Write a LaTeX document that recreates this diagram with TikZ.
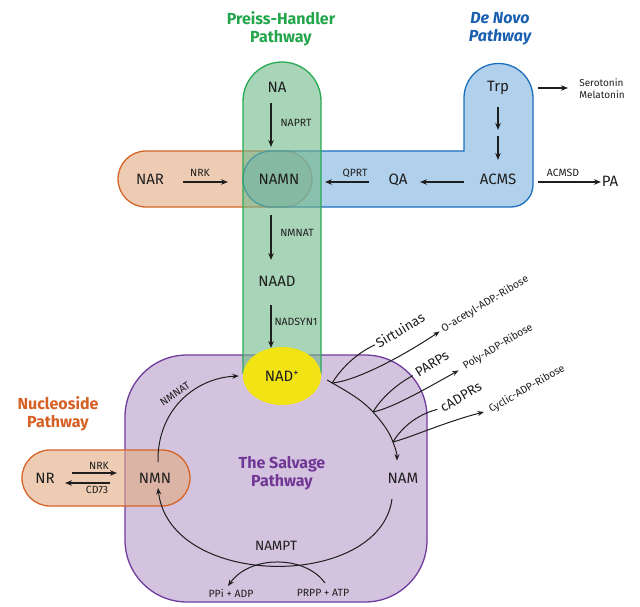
\documentclass[tikz,border=0pt]{standalone}
\usepackage{fontspec}
\setmainfont{Fira Sans}
\usetikzlibrary{arrows.meta,shapes.geometric}
\definecolor{ink}{RGB}{30,30,30}
\definecolor{gstroke}{RGB}{40,170,85}
\definecolor{gfill}{RGB}{110,183,135}
\definecolor{bstroke}{RGB}{30,110,190}
\definecolor{bfill}{RGB}{123,177,222}
\definecolor{ostroke}{RGB}{212,100,40}
\definecolor{ofill}{RGB}{226,170,130}
\definecolor{pstroke}{RGB}{112,60,158}
\definecolor{pfill}{RGB}{212,195,222}
\definecolor{yel}{RGB}{242,228,20}
\definecolor{gtitle}{RGB}{35,165,75}
\definecolor{btitle}{RGB}{25,95,175}
\definecolor{otitle}{RGB}{214,96,36}
\definecolor{ptitle}{RGB}{112,55,150}
\begin{document}
\begin{tikzpicture}[x=1pt,y=-1pt,
  every node/.style={inner sep=0pt,text=ink},
  big/.style={font=\fontsize{15}{17}\selectfont},
  mid/.style={font=\fontsize{13.5}{15}\selectfont},
  small/.style={font=\fontsize{10.5}{12}\selectfont},
  ttl/.style={font=\fontsize{16}{18}\selectfont\bfseries,align=center},
  arr/.style={draw=ink,line width=1.1pt,-{Stealth[length=7pt,width=5.5pt]}},
  carr/.style={draw=ink,line width=1pt,-{Stealth[length=6.5pt,width=5pt]}},
  cline/.style={draw=ink,line width=1pt},
  region/.style={line width=1.3pt,fill opacity=0.6},
]
\useasboundingbox (0,0) rectangle (640,607);
% ---------- regions ----------
\draw[draw=pstroke,fill=pfill,line width=1.3pt,rounded corners=62pt] (125,355) rectangle (427,602);
\draw[region,draw=ostroke,fill=ofill,rounded corners=28pt] (22,450) rectangle (190,506);
\draw[region,draw=ostroke,fill=ofill,rounded corners=28pt] (118,151) rectangle (312,207);
\draw[region,draw=bstroke,fill=bfill] (271,151) -- (464,151) -- (464,98)
   arc[start angle=180,end angle=0,radius=34.5pt] -- (533,185)
   arc[start angle=0,end angle=-90,radius=22pt] -- (271,207)
   arc[start angle=270,end angle=90,radius=28pt] -- cycle;
\fill[gfill,fill opacity=0.6] (243,374) -- (243,101) arc[start angle=180,end angle=0,radius=39pt] -- (321,374) -- cycle;
\draw[gstroke,line width=1.3pt] (243,374) -- (243,101) arc[start angle=180,end angle=0,radius=39pt] -- (321,374);
% ---------- titles ----------
\node[ttl,text=gtitle] (tPH) at (281,29) {Preiss-Handler\\Pathway};
\node[ttl,text=btitle,font=\fontsize{16}{18}\selectfont\bfseries\itshape] (tDN) at (500,29) {De Novo\\Pathway};
\node[ttl,text=otitle] (tNP) at (58,414) {Nucleoside\\Pathway};
\node[ttl,text=ptitle] (tSP) at (282,473) {The Salvage\\Pathway};
% ---------- metabolites ----------
\node[ellipse,fill=yel,minimum width=78pt,minimum height=58pt,big] (NAD) at (282,376) {NAD\textsuperscript{+}};
\node[big] (NA) at (277,87) {NA};
\node[big] (NAMN) at (279,179) {NAMN};
\node[big] (NAAD) at (277,281) {NAAD};
\node[big] (NAR) at (150,179) {NAR};
\node[big] (QA) at (398,180) {QA};
\node[big] (ACMS) at (498,179) {ACMS};
\node[big] (Trp) at (498,88) {Trp};
\node[big] (PA) at (610,181) {PA};
\node[small,font=\fontsize{10}{12}\selectfont,align=left] (Sero) at (602,89) {Serotonin\\Melatonin};
\node[big] (NR) at (45,478) {NR};
\node[big] (NMN) at (155,478) {NMN};
\node[big] (NAM) at (403,478) {NAM};
\node[mid] (NAMPT) at (276,546) {NAMPT};
\node[small] (PPi) at (231,593) {PPi + ADP};
\node[small] (PRPP) at (323,593) {PRPP + ATP};
% ---------- enzyme labels ----------
\node[small] (naprt) at (296,123) {NAPRT};
\node[small] (nmnat1) at (297,233) {NMNAT};
\node[small] (nadsyn) at (296,322) {NADSYN1};
\node[small] (qprt) at (355,173) {QPRT};
\node[small] (nrk1) at (200,173) {NRK};
\node[small] (acmsd) at (563,173) {ACMSD};
\node[small] (nrk2) at (99,466) {NRK};
\node[small] (cd73) at (97,490) {CD73};
\node[small,rotate=34] (nmnat2) at (175,394) {NMNAT};
% ---------- consumers ----------
\node[mid,rotate=31] (Sirt) at (400,330) {Sirtuinas};
\node[small,rotate=31] (OAc) at (485,304) {O-acetyl-ADP.-Ribose};
\node[mid,rotate=32] (PARP) at (432,364) {PARPs};
\node[small,rotate=31] (Poly) at (498,347) {Poly-ADP-Ribose};
\node[mid,rotate=30] (cADPR) at (461,397) {cADPRs};
\node[small,rotate=30] (Cyc) at (527,389) {Cyclic-ADP-Ribose};
% ---------- straight arrows ----------
\draw[arr,shorten <=16pt,shorten >=32pt] ([xshift=-6pt]NA.center) -- ([xshift=-8pt]NAMN.center);
\draw[arr,shorten <=36pt,shorten >=21pt] ([xshift=-8pt]NAMN.center) -- ([xshift=-6pt]NAAD.center);
\draw[arr,shorten <=24pt,shorten >=28pt] ([xshift=-6pt]NAAD.center) -- ([xshift=-11pt]NAD.center);
\draw[arr,shorten <=19pt,shorten >=49pt] (Trp.center) -- (ACMS.center);
\draw[arr,shorten <=48pt,shorten >=19pt] (Trp.center) -- (ACMS.center);
\draw[arr,shorten <=40pt,shorten >=34pt] (Trp.center) -- (Trp.center -| Sero.center);
\draw[arr,shorten <=40pt,shorten >=9pt] ([yshift=-3pt]ACMS.center) -- ([yshift=-3pt]ACMS.center -| PA.center);
\draw[arr,shorten <=34pt,shorten >=22pt] ([yshift=-3pt]ACMS.center) -- ([yshift=-3pt]ACMS.center -| QA.center);
\draw[arr,shorten <=29pt,shorten >=46pt] ([yshift=-3pt]ACMS.center -| QA.center) -- ([yshift=-3pt]NAMN.center);
\draw[arr,shorten <=33pt,shorten >=51pt] ([yshift=-3pt]NAR.center) -- ([yshift=-3pt]NAMN.center);
\draw[arr,shorten <=27pt,shorten >=38pt] ([yshift=5pt]NR.center) -- ([yshift=5pt]NMN.center);
\draw[arr,shorten <=45pt,shorten >=20pt] ([yshift=-5pt]NMN.center) -- ([yshift=-5pt]NR.center);
% ---------- salvage cycle ----------
\coordinate (j1) at ([xshift=11pt,yshift=-7pt]NAD.east);
\coordinate (j2) at (373,412);
\coordinate (j3) at (393,442);
\draw[cline] ([xshift=6pt,yshift=-4pt]NAD.east) -- (j1);
\draw[carr] (j1) .. controls (352,394) and (364,402) .. (j2)
   .. controls (382,422) and (389,431) .. (j3)
   .. controls (396,450) and (397,454) .. ([xshift=-6pt,yshift=12pt]NAM.north);
\draw[carr] ([xshift=3pt,yshift=16pt]NMN.center) .. controls (157,410) and (195,378) .. ([xshift=-4pt]NAD.west);
\draw[carr] ([xshift=-11pt,yshift=-21pt]NAM.center) .. controls (380,590) and (170,590) .. ([xshift=3pt,yshift=-10pt]NMN.center);
\draw[carr] ([xshift=2pt,yshift=10pt]PRPP.center) .. controls (305,555) and (250,555) .. ([xshift=-3pt,yshift=7pt]PPi.center);
% ---------- branches ----------
\draw[cline,shorten >=2pt] (j1) .. controls (340,370) and (355,354) .. (Sirt.west);
\draw[carr,shorten >=3pt] (j1) .. controls (355,381) and (400,358) .. (OAc.west);
\draw[cline,shorten >=4pt] (j2) .. controls (380,400) and (395,385) .. (PARP.west);
\draw[carr,shorten >=6pt] (j2) .. controls (392,408) and (420,392) .. (Poly.west);
\draw[cline,shorten >=4pt] (j3) .. controls (400,430) and (415,415) .. (cADPR.west);
\draw[carr,shorten >=6pt] (j3) .. controls (412,437) and (445,422) .. (Cyc.west);
\end{tikzpicture}
\end{document}
